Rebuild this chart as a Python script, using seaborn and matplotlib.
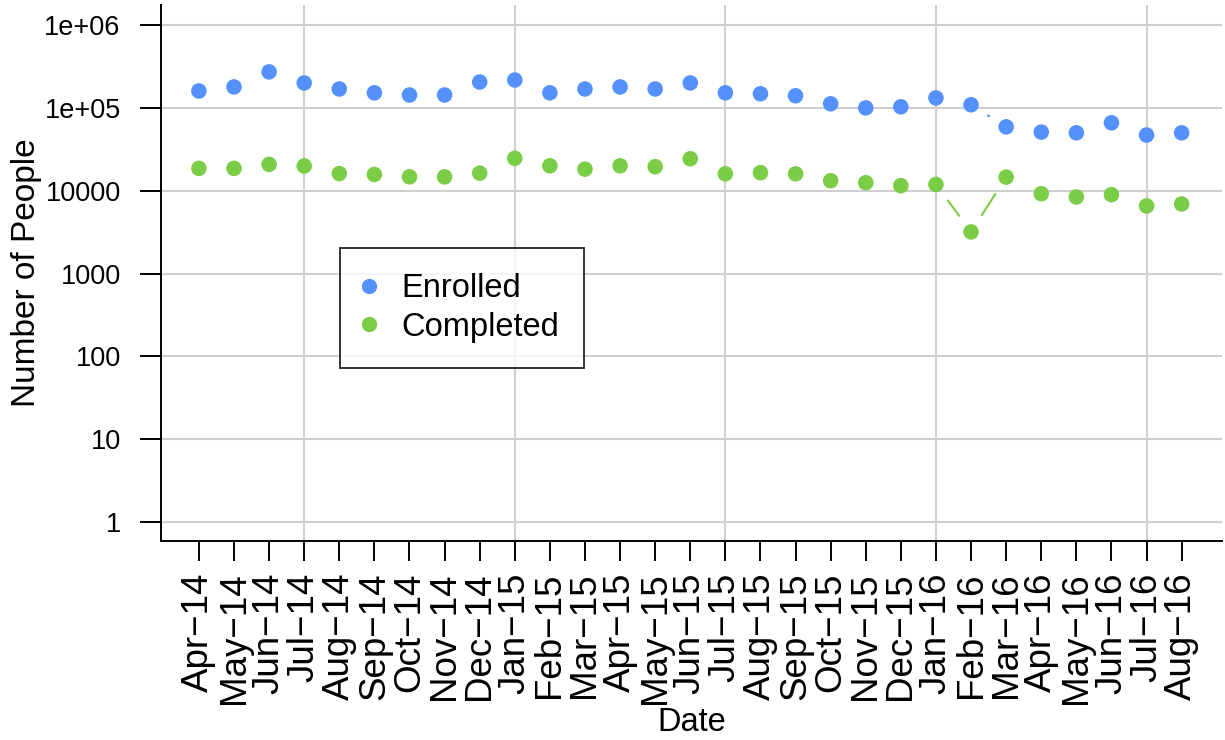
import numpy as np
import pandas as pd
import matplotlib
matplotlib.use("Agg")
import matplotlib.pyplot as plt
import seaborn as sns

# monthly counts
dates = ["Apr\u221214", "May\u221214", "Jun\u221214", "Jul\u221214", "Aug\u221214", "Sep\u221214",
         "Oct\u221214", "Nov\u221214", "Dec\u221214", "Jan\u221215", "Feb\u221215", "Mar\u221215",
         "Apr\u221215", "May\u221215", "Jun\u221215", "Jul\u221215", "Aug\u221215", "Sep\u221215",
         "Oct\u221215", "Nov\u221215", "Dec\u221215", "Jan\u221216", "Feb\u221216", "Mar\u221216",
         "Apr\u221216", "May\u221216", "Jun\u221216", "Jul\u221216", "Aug\u221216"]
enrolled = [160000, 179000, 272000, 200000, 169000, 152000, 143000, 143000, 205000, 217000,
            152000, 169000, 179000, 169000, 200000, 152000, 148000, 140000, 112000, 100000,
            103000, 132000, 109000, 59000, 51000, 50000, 66000, 47000, 50000]
completed = [18600, 18600, 20800, 19900, 16100, 15700, 14700, 14700, 16300, 24600,
             20000, 18200, 20000, 19500, 24300, 16000, 16500, 16000, 13200, 12500,
             11500, 11900, 3180, 14600, 9200, 8400, 8950, 6550, 6920]
series = ["Enrolled", "Completed"]
colors = {"Enrolled": "#5591fc", "Completed": "#7bcc46"}
y_ticks = [1, 10, 100, 1000, 10000, 100000, 1000000]
y_tick_labels = ["1", "10", "100", "1000", "10000", "1e+05", "1e+06"]

x = np.arange(len(dates))
df = pd.DataFrame({
    "idx": np.concatenate([x, x]),
    "People": enrolled + completed,
    "Series": ["Enrolled"] * len(dates) + ["Completed"] * len(dates),
})

sns.set_style("white")
plt.rcParams["font.family"] = ["Liberation Sans", "DejaVu Sans"]
plt.rcParams["text.color"] = "black"
plt.rcParams["axes.labelcolor"] = "black"
plt.rcParams["xtick.color"] = "black"
plt.rcParams["ytick.color"] = "black"

fig = plt.figure(figsize=(12.25, 7.4), dpi=100)
ax = fig.add_axes([161 / 1225, 1 - 541 / 740, (1222 - 161) / 1225, (541 - 5) / 740])
ax.set_yscale("log")
ax.set_xlim(-1.08, 29.15)
ax.set_ylim(10 ** -0.229, 10 ** 6.242)

# grid: decades and every January / July
for yt in y_ticks:
    ax.axhline(yt, color="#cfcfcf", lw=1.5, zorder=0)
for i, d in enumerate(dates):
    if d.startswith("Jan") or d.startswith("Jul"):
        ax.axvline(i, color="#cfcfcf", lw=1.5, zorder=0)

sns.scatterplot(data=df, x="idx", y="People", hue="Series", palette=colors,
                s=125, linewidth=0, ax=ax, zorder=3, legend=False)


# R type="b": lines that stop short of each point
def gap_lines(xs, ys, color, gap=20):
    tr = ax.transData
    pts = tr.transform(np.column_stack([xs, ys]))
    inv = tr.inverted()
    for p0, p1 in zip(pts[:-1], pts[1:]):
        d = p1 - p0
        L = np.hypot(*d)
        if L <= 2 * gap:
            continue
        u = d / L
        a = inv.transform(p0 + u * gap)
        b = inv.transform(p1 - u * gap)
        ax.plot([a[0], b[0]], [a[1], b[1]], color=color, lw=1.5, zorder=2)


gap_lines(x, enrolled, colors["Enrolled"])
gap_lines(x, completed, colors["Completed"])

ax.set_yticks(y_ticks)
ax.set_yticklabels(y_tick_labels, fontsize=19.5)
ax.yaxis.set_minor_locator(matplotlib.ticker.NullLocator())
ax.set_xticks(x)
ax.set_xticklabels(dates, rotation=90, fontsize=26.5)
ax.tick_params(axis="y", length=15, width=1.4, pad=14, left=True)
ax.tick_params(axis="x", length=14.5, width=1.4, pad=8, bottom=True)

for side in ["top", "right"]:
    ax.spines[side].set_visible(False)
for side in ["left", "bottom"]:
    ax.spines[side].set_color("black")
    ax.spines[side].set_linewidth(1.4)

ax.set_xlabel("Date", fontsize=23.5, labelpad=2)
ax.set_ylabel("Number of People", fontsize=24, labelpad=2)

handles = [plt.Line2D([], [], marker="o", ls="", markersize=11, color=colors[s],
                      markeredgewidth=0) for s in series]
leg = ax.legend(handles, series, loc="upper left", bbox_to_anchor=(0.1687, 0.5466),
                borderaxespad=0, fontsize=23.5, frameon=True, fancybox=False,
                edgecolor="black", handletextpad=0.86, handlelength=0.25,
                labelspacing=0.23, borderpad=0.77)
leg.get_frame().set_linewidth(1.4)

fig.savefig("out.png", dpi=100)
